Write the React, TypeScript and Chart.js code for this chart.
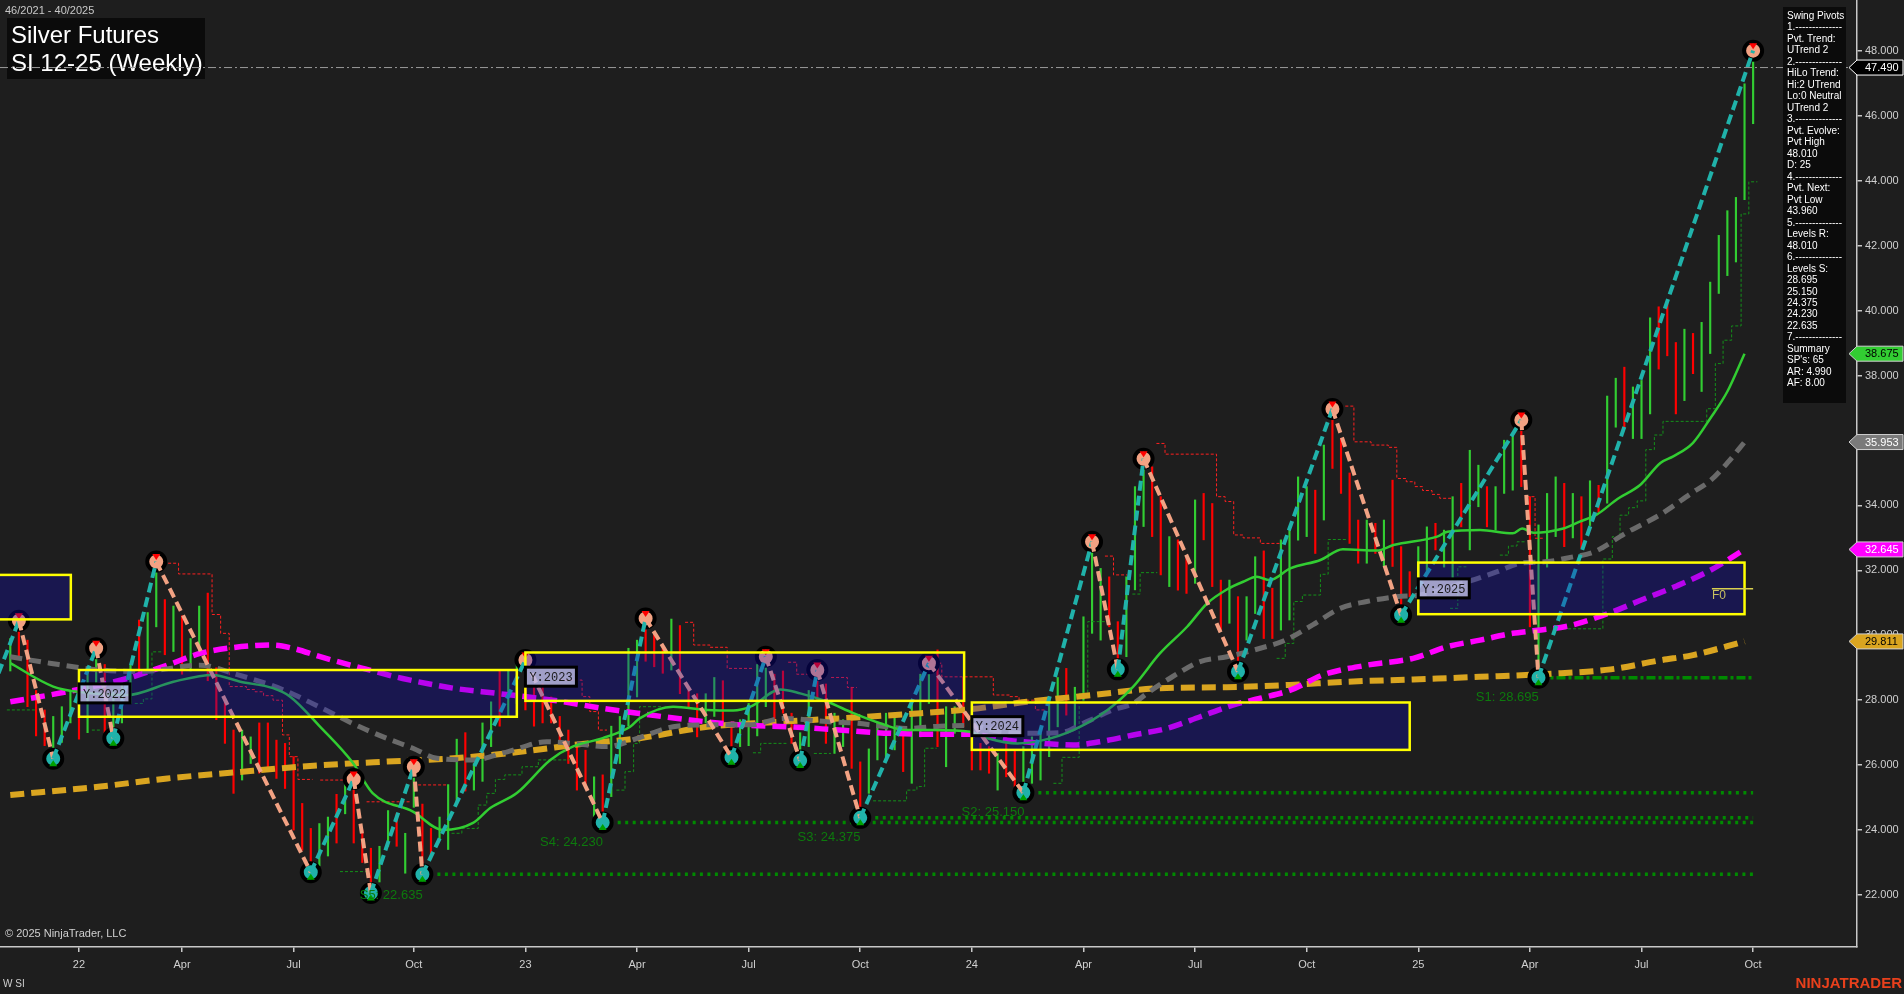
import React, { useEffect, useRef } from "react";
import { Chart, registerables } from "chart.js";
Chart.register(...registerables);

const FONT = '"Liberation Sans", Arial, sans-serif';
const MONO = '"Liberation Mono", "Courier New", monospace';
const BG = "#1e1e1e";
const AXIS = "#c8c8c8";

// ---------------- data ----------------
const highs = [
  29.9, 30.45, 29.85, 28.3, 27.7, 27.5, 27.8, 28.3, 28.4, 28.9,
  29.6, 29.1, 28.3, 28.6, 29.1, 30.47, 30.7, 32.27, 31.1, 30.9,
  30.6, 29.9, 30.9, 31.3, 29.0, 28.0, 27.08, 27.08, 26.87, 27.3,
  27.3, 26.77, 26.67, 26.26, 24.82, 24.05, 24.2, 24.4, 25.1, 25.6,
  25.57, 24.0, 23.44, 23.5, 24.6, 24.5, 23.9, 25.95, 24.8, 24.05,
  24.4, 25.4, 26.8, 27.0, 26.05, 27.3, 27.95, 28.9, 28.9, 29.1,
  29.24, 28.4, 28.5, 28.1, 27.5, 27.08, 26.67, 26.46, 25.64, 25.7,
  27.2, 27.5, 29.6, 29.85, 30.52, 30.1, 29.7, 30.5, 30.3, 28.3,
  28.2, 28.2, 28.7, 28.6, 27.2, 27.4, 27.9, 29.1, 29.34, 28.8,
  28.9, 27.6, 27.0, 28.3, 28.93, 28.5, 27.6, 27.4, 28.4, 26.1,
  26.5, 27.3, 27.6, 27.5, 27.18, 27.9, 28.8, 29.14, 29.55, 27.8,
  27.8, 28.7, 27.08, 26.67, 26.57, 26.36, 26.87, 26.47, 26.57, 26.87,
  26.98, 28.0, 28.7, 28.98, 28.4, 30.57, 32.88, 32.06, 31.8, 30.42,
  31.8, 34.58, 35.44, 35.19, 34.27, 33.04, 32.94, 32.42, 34.17, 34.37,
  34.06, 31.7, 31.7, 31.19, 31.19, 32.42, 32.6, 31.45, 32.94, 33.24,
  34.88, 34.58, 34.47, 35.86, 36.97, 36.07, 35.0, 33.55, 33.55, 33.45,
  33.55, 34.78, 32.73, 31.96, 32.73, 33.34, 33.45, 33.24, 34.27, 34.68,
  35.7, 35.24, 34.58, 34.58, 36.01, 36.22, 36.63, 34.27, 33.4, 34.37,
  34.88, 34.68, 34.37, 34.27, 34.76, 34.62, 37.37, 37.92, 38.26, 37.65,
  37.85, 39.78, 40.12, 40.33, 39.02, 39.43, 39.3, 39.64, 40.88, 42.32,
  43.08, 43.49, 46.99, 48.01,
];
const lows = [
  28.9, 29.3, 27.8, 26.9, 26.6, 26.2, 26.7, 27.3, 26.8, 27.0,
  28.4, 27.0, 26.83, 27.3, 27.9, 28.8, 28.9, 30.26, 29.4, 29.5,
  28.8, 28.9, 29.5, 28.6, 27.4, 26.67, 25.13, 25.54, 26.05, 25.75,
  25.95, 25.59, 25.28, 24.0, 23.38, 22.7, 22.9, 23.2, 23.6, 24.5,
  23.6, 23.0, 22.06, 22.4, 23.5, 23.5, 22.67, 24.7, 22.64, 23.23,
  23.7, 23.4, 24.8, 25.2, 25.23, 25.5, 26.57, 27.2, 27.5, 27.9,
  27.7, 27.2, 27.3, 27.3, 26.57, 26.05, 25.23, 25.4, 24.41, 24.23,
  25.03, 26.05, 27.2, 28.1, 29.2, 29.03, 28.83, 28.93, 28.2, 27.8,
  26.87, 27.3, 27.5, 27.3, 26.24, 26.57, 26.6, 26.9, 27.8, 27.4,
  27.6, 26.67, 26.14, 26.57, 28.0, 26.67, 26.36, 26.57, 25.9, 24.375,
  25.13, 26.16, 26.16, 26.47, 25.8, 25.44, 26.87, 27.9, 26.57, 25.95,
  26.98, 27.18, 25.85, 25.85, 25.75, 25.23, 25.64, 25.34, 25.15, 25.44,
  25.54, 26.26, 27.18, 27.54, 27.1, 28.0, 30.06, 29.85, 30.26, 28.95,
  29.34, 31.4, 33.35, 33.04, 31.86, 31.5, 31.39, 31.29, 31.6, 32.94,
  31.5, 30.17, 30.37, 28.88, 29.85, 30.67, 29.9, 29.9, 30.16, 30.47,
  32.93, 33.04, 32.52, 33.55, 35.14, 34.37, 32.83, 32.22, 32.22, 32.52,
  32.12, 32.12, 30.62, 31.19, 31.5, 32.0, 32.63, 32.1, 31.7, 33.34,
  32.63, 33.96, 33.34, 33.24, 34.37, 34.47, 34.58, 30.26, 28.695, 32.1,
  33.04, 32.73, 33.0, 32.69, 33.38, 33.79, 34.07, 36.41, 36.41, 36.06,
  36.06, 36.82, 38.2, 38.61, 36.82, 37.23, 38.06, 37.51, 38.68, 40.53,
  41.08, 41.5, 43.42, 45.76,
];
// u = up bar (green), d = down bar (red)
const barDirections =
  "udddduuudu" + "uduuuduudu" + "duudddduud" + "dddddduudu" + "ddduuduudd" +
  "uuuduuuduu" + "ddddddddud" + "uuuudddudd" + "duudduuuud" + "dduudduudd" +
  "uuuuduuudu" + "uddddudduu" + "uuuduuuudd" + "uuudduddud" + "dduduudduu" +
  "uududdddud" + "uddduuduud" + "uuduuudduu" + "udududuudu" + "uuddduduuu" + "uuuu";

const xTickIndex = [8, 20, 33, 47, 60, 73, 86, 99, 112, 125, 138, 151, 164, 177, 190, 203];
const xTickLabels = ["22", "Apr", "Jul", "Oct", "23", "Apr", "Jul", "Oct", "24", "Apr", "Jul", "Oct", "25", "Apr", "Jul", "Oct"];
const yTickValues = [22, 24, 26, 28, 30, 32, 34, 36, 38, 40, 42, 44, 46, 48];

const pivotIndex = [1, 5, 10, 12, 17, 35, 40, 42, 47, 48, 60, 69, 74, 84, 88, 92, 94, 99, 107, 118, 126, 129, 132, 143, 154, 162, 176, 178, 203];
const pivotValue = [30.45, 26.2, 29.6, 26.83, 32.27, 22.7, 25.57, 22.06, 25.95, 22.635, 29.24, 24.23, 30.52, 26.24, 29.34, 26.14, 28.93, 24.375, 29.14, 25.15, 32.88, 28.95, 35.44, 28.88, 36.97, 30.62, 36.63, 28.695, 48.01];
const pivotKind = "HLHLHLHLHLHLHLHLHLHLHLHLHLHLH";
const zigzagLead = [-2, 28.4];

// moving averages: [bar index, price]
const maFast = [[0,29.14],[5,28.42],[8.1,28.25],[13.6,28.16],[19,28.57],[23.6,28.78],[26.8,28.57],[30.6,28.37],[32.6,28.11],[36.1,27.18],[39.9,26.07],[42.2,25.14],[46.9,24.57],[50.4,24.0],[53.9,24.22],[55.9,24.68],[59,25.14],[62.9,26.16],[65.5,26.57],[69,26.83],[72.2,27.18],[73.3,27.44],[77.2,27.8],[81.2,27.7],[84.2,27.68],[86.2,27.8],[89.7,28.33],[92,28.21],[95.1,27.96],[98.2,27.6],[101.3,27.29],[104.4,27.08],[107.5,27.08],[111.8,27.03],[113.8,26.83],[117.3,26.67],[120.3,26.77],[123.8,27.08],[127.8,27.7],[130.8,28.42],[133.9,29.44],[137.1,30.27],[139.4,30.98],[141.7,31.41],[143.6,31.65],[145.2,31.8],[146.7,31.7],[149.1,32.06],[152.6,32.32],[155.2,32.65],[159.2,32.61],[161.1,32.78],[166.2,33.04],[167.4,33.19],[171.2,33.24],[175,33.14],[176.1,33.29],[177.4,33.16],[180.9,33.29],[182.8,33.5],[184.8,33.72],[187.2,34.2],[189.8,34.62],[192.2,35.31],[193.7,35.51],[196,35.93],[198,36.68],[200,37.51],[202,38.675]];
const maMid = [[0,29.34],[4.6,29.14],[10.5,28.93],[15.1,28.88],[22.1,29.08],[25.9,28.83],[31.8,28.32],[36.1,27.78],[40.7,27.18],[43.9,26.82],[46.9,26.52],[49.7,26.21],[53.9,26.16],[57.9,26.41],[62.5,26.72],[65.5,26.67],[69.5,26.57],[73.3,26.85],[77.2,27.18],[81.2,27.24],[86.2,27.24],[90,27.44],[95.1,27.34],[98.6,27.29],[102.1,27.18],[104.4,27.13],[108.3,27.2],[111.8,27.22],[115.3,27.03],[118.4,26.98],[122.3,27.0],[125.4,27.34],[128.4,27.7],[130.8,27.9],[132.4,28.21],[135.4,28.73],[138.6,29.19],[141.7,29.34],[145.6,29.6],[148.5,29.85],[151.7,30.32],[154.9,30.83],[158,31.04],[161.5,31.19],[164.2,31.24],[169.7,31.65],[173.2,31.96],[175.9,32.22],[179,32.27],[181.7,32.4],[184.4,32.56],[188.3,33.17],[192.2,33.72],[196,34.41],[198,34.76],[200,35.31],[202,35.953]];
const maSlow = [[0,27.95],[6.6,28.26],[13.6,28.67],[18.3,29.08],[22.1,29.44],[25.9,29.62],[30.6,29.7],[32.9,29.6],[36.1,29.34],[41.1,28.98],[45.7,28.67],[51.6,28.37],[56.7,28.21],[63.2,28.0],[69,27.75],[73.3,27.59],[79.2,27.39],[85,27.24],[90.8,27.18],[96.6,27.08],[102.5,26.98],[108.3,26.95],[111.8,26.95],[116.1,26.77],[120.3,26.67],[123.8,26.62],[126.9,26.72],[130.8,26.93],[134.7,27.13],[138.6,27.49],[142.4,27.85],[145.6,28.06],[149.1,28.31],[152.9,28.78],[158,29.08],[163.4,29.29],[167.4,29.65],[171.2,29.85],[175,30.06],[177.4,30.14],[181.7,30.3],[186.4,30.7],[190.2,31.11],[194.1,31.52],[198,32.0],[202,32.645]];
const maLong = [[0,25.08],[10.5,25.34],[18.3,25.59],[25.9,25.77],[33.7,25.95],[43.9,26.11],[51.6,26.21],[59.4,26.41],[67.2,26.67],[73.3,26.83],[81.2,27.18],[88.8,27.32],[96.6,27.44],[104.4,27.57],[111.8,27.72],[118.4,27.95],[126.1,28.16],[133.9,28.37],[141.7,28.4],[149,28.47],[155.7,28.57],[163.4,28.64],[171.2,28.72],[179,28.81],[186.4,28.95],[192.2,29.23],[196,29.39],[202,29.811]];

// swing trailing steps: segments of [bar index, level]
const redTrail = [
  [[17.8,32.22],[19.6,31.89],[23.5,30.64],[24.5,30.06],[25.5,28.42],[27.5,28.33],[28.5,28.26],[29.5,28.14],[30.6,28.0],[31.7,26.93],[32.5,26.26],[33.5,25.56],[35.2,25.56]],
  [[36.1,25.54],[38.8,25.54]],
  [[41.5,24.87],[46.6,24.87]],
  [[47.5,25.39],[50.8,25.39]],
  [[64,28.62],[66.6,28.11],[67.5,27.65],[68.5,27.08],[69.5,27.08]],
  [[78.6,30.4],[79.6,29.7],[81.5,29.63],[83.5,28.98],[86.5,28.98]],
  [[90.6,29.17],[91.6,28.8],[93.5,28.8]],
  [[95.6,28.7],[97.5,28.39],[98.6,28.39]],
  [[107.5,29.14],[108.5,28.72],[114.5,28.16],[116.4,28.11],[117.5,28.0],[119.4,27.7],[120.6,27.7]],
  [[127.5,32.44],[128.5,31.86],[130.1,31.86]],
  [[133.5,35.91],[134.5,35.58],[140.5,34.27],[141.5,34.12],[142.5,33.09],[143.6,33.0],[145.6,32.83],[147.9,32.83]],
  [[155.5,37.06],[156.5,35.96],[158.5,35.86],[160.5,35.79],[161.5,34.83],[162.6,34.73],[163.6,34.58],[164.5,34.46],[165.6,34.34],[166.5,34.22],[168,34.22]],
  [[176.6,34.27],[177.6,32.99],[178.5,32.99]],
];
const greenTrail = [
  [[-0.4,27.7],[2.9,27.7]],
  [[9.5,27.08],[10.5,27.08]],
  [[14.5,27.9],[15.5,28.04],[16.5,29.49],[17.8,29.49]],
  [[38.4,22.72],[41.5,22.72]],
  [[51.4,23.9],[52.6,24.05],[54.5,24.77],[55.5,25.13],[56.5,25.56],[57.6,25.7],[59.6,25.95],[61.5,26.16],[65.2,26.16]],
  [[70.6,25.23],[71.6,25.8],[72.6,26.67],[73.3,27.8],[76,27.8]],
  [[86.5,26.38],[87.4,26.67],[90.4,26.67]],
  [[93.6,26.36],[95.6,26.36]],
  [[100.5,24.9],[104.4,25.23],[105.6,25.34],[106.5,26.52],[107.9,26.52]],
  [[121.5,25.44],[122.5,26.24],[124.5,28.21],[125.5,30.42],[127.5,30.42]],
  [[130.7,31.27],[131.6,31.93],[133.6,31.93]],
  [[147.5,29.29],[148.5,29.75],[149.5,31.04],[150.5,31.24],[152.6,31.88],[153.5,32.95],[155.7,32.95]],
  [[167.7,30.83],[168.6,32.11],[169.6,32.11]],
  [[173.5,32.47],[174.5,32.75],[175.5,32.88],[176.5,32.88]],
  [[179.7,30.2],[185.5,32.35],[186.6,33.04],[187.5,33.7],[188.5,33.93],[189.5,34.14],[190.5,35.72],[191.5,36.17],[192.5,36.59],[197.6,36.98],[198.6,38.37],[199.5,39.09],[200.5,39.53],[201.6,42.98],[202.5,43.97],[203.5,43.97]],
];

const supportName = ["S5", "S4", "S3", "S2", "S1"];
const supportLevel = [22.635, 24.23, 24.375, 25.15, 28.695];
const supportStart = [48, 69, 99, 118, 178];
const supportEnd = 203;

const yearBoxLabel = ["Y:2021", "Y:2022", "Y:2023", "Y:2024", "Y:2025"];
const yearBoxStart = [-6, 8, 60, 112, 164];
const yearBoxEnd = [7.05, 59, 111.1, 163, 202];
const yearBoxLow = [30.49, 27.49, 27.98, 26.47, 30.65];
const yearBoxHigh = [31.86, 28.93, 29.47, 27.93, 32.24];
const fibLevel = 31.43;

const lastPrice = 47.49;
const tagValues = [47.49, 38.675, 35.953, 32.645, 29.811];

const infoLines = ["Swing Pivots", "1.--------------", "Pvt. Trend:", "UTrend 2", "2.--------------", "HiLo Trend:", "Hi:2 UTrend", "Lo:0 Neutral", "UTrend 2", "3.--------------", "Pvt. Evolve:", "Pvt High", "48.010", "D: 25", "4.--------------", "Pvt. Next:", "Pvt Low", "43.960", "5.--------------", "Levels R:", "48.010", "6.--------------", "Levels S:", "28.695", "25.150", "24.375", "24.230", "22.635", "7.--------------", "Summary", "SP's: 65", "AR: 4.990", "AF: 8.00"];

// ---------------- layout / style (not data) ----------------
const X_MIN = -1.2, X_MAX = 215.1, Y_MIN = 20.397, Y_MAX = 49.571;
const supportLabelPos = [[40.7, 22.0], [61.7, 23.62], [91.7, 23.78], [110.8, 24.55], [170.7, 28.09]];
const tagStyle = [
  { fill: "#000000", text: "#ffffff", stroke: "#ffffff" },
  { fill: "#32cd32", text: "#000000", stroke: null },
  { fill: "#7a7a7a", text: "#ffffff", stroke: null },
  { fill: "#ff00ff", text: "#ffffff", stroke: null },
  { fill: "#daa520", text: "#000000", stroke: null },
];
const TEAL = "#20b2aa";
const SALMON = "#f2a283";

const pts = (arr: number[][]) => arr.map(([x, y]) => ({ x, y }));
const segs = (list: number[][][]) => {
  const out: any[] = [];
  list.forEach((s, k) => {
    if (k > 0) out.push({ x: s[0][0] - 0.01, y: null });
    s.forEach(([x, y]) => out.push({ x, y }));
  });
  return out;
};

const overlay = {
  id: "overlay",
  beforeDraw(chart: any) {
    const { ctx, width, height } = chart;
    ctx.save();
    ctx.fillStyle = BG;
    ctx.fillRect(0, 0, width, height);
    ctx.restore();
  },
  afterDatasetsDraw(chart: any) {
    const { ctx, chartArea: a } = chart;
    const x = chart.scales.x, y = chart.scales.y;
    ctx.save();
    ctx.beginPath();
    ctx.rect(a.left, a.top, a.right - a.left, a.bottom - a.top);
    ctx.clip();
    // pivot markers' arrows
    pivotIndex.forEach((pi, k) => {
      const px = x.getPixelForValue(pi), py = y.getPixelForValue(pivotValue[k]);
      ctx.beginPath();
      if (pivotKind[k] === "H") {
        ctx.moveTo(px - 4, py - 7.5); ctx.lineTo(px + 4, py - 7.5); ctx.lineTo(px, py - 1.5);
        ctx.fillStyle = "#ff0000";
      } else {
        ctx.moveTo(px - 4, py + 7.5); ctx.lineTo(px + 4, py + 7.5); ctx.lineTo(px, py + 1.5);
        ctx.fillStyle = "#00a000";
      }
      ctx.closePath();
      ctx.fill();
    });
    // yearly boxes
    yearBoxStart.forEach((s, k) => {
      const x0 = x.getPixelForValue(s), x1 = x.getPixelForValue(yearBoxEnd[k]);
      const y0 = y.getPixelForValue(yearBoxHigh[k]), y1 = y.getPixelForValue(yearBoxLow[k]);
      ctx.fillStyle = "rgba(16,10,196,0.3)";
      ctx.fillRect(x0, y0, x1 - x0, y1 - y0);
      ctx.strokeStyle = "#ffff00";
      ctx.lineWidth = 2.5;
      ctx.strokeRect(x0, y0, x1 - x0, y1 - y0);
    });
    // F0 level
    {
      const fy = y.getPixelForValue(fibLevel);
      const fx0 = x.getPixelForValue(198.2), fx1 = x.getPixelForValue(203);
      ctx.strokeStyle = "#d8d050";
      ctx.lineWidth = 1.5;
      ctx.beginPath(); ctx.moveTo(fx0, fy); ctx.lineTo(fx1, fy); ctx.stroke();
      ctx.fillStyle = "#c8c060";
      ctx.font = `12px ${FONT}`;
      ctx.textAlign = "left"; ctx.textBaseline = "top";
      ctx.fillText("F0", fx0, fy + 1);
    }
    // yearly box labels
    yearBoxStart.forEach((s, k) => {
      if (s < X_MIN) return;
      const x0 = x.getPixelForValue(s);
      const ym = (y.getPixelForValue(yearBoxHigh[k]) + y.getPixelForValue(yearBoxLow[k])) / 2;
      ctx.fillStyle = "rgba(205,205,240,0.75)";
      ctx.fillRect(x0, ym - 9.5, 51, 19);
      ctx.strokeStyle = "#000000";
      ctx.lineWidth = 3;
      ctx.strokeRect(x0, ym - 9.5, 51, 19);
      ctx.fillStyle = "#1a1a1a";
      ctx.font = `12px ${MONO}`;
      ctx.textAlign = "left"; ctx.textBaseline = "middle";
      ctx.fillText(yearBoxLabel[k], x0 + 4, ym + 1);
    });
    // support labels
    supportName.forEach((n, k) => {
      const [li, lv] = supportLabelPos[k];
      ctx.fillStyle = "#0d7a0d";
      ctx.font = `13px ${FONT}`;
      ctx.textAlign = "left"; ctx.textBaseline = "middle";
      ctx.fillText(`${n}: ${supportLevel[k].toFixed(3)}`, x.getPixelForValue(li), y.getPixelForValue(lv));
    });
    ctx.restore();
  },
  afterDraw(chart: any) {
    const { ctx, chartArea: a } = chart;
    const y = chart.scales.y;
    ctx.save();
    // title
    ctx.fillStyle = "#0b0b0b";
    ctx.fillRect(7, 18, 198, 61);
    ctx.fillStyle = "#ffffff";
    ctx.font = `24px ${FONT}`;
    ctx.textAlign = "left"; ctx.textBaseline = "middle";
    ctx.fillText("Silver Futures", 11, 36);
    ctx.fillText("SI 12-25 (Weekly)", 11, 64);
    ctx.fillStyle = "#c8c8c8";
    ctx.font = `11px ${FONT}`;
    ctx.fillText("46/2021 - 40/2025", 5, 11);
    // last price dash-dot line
    const ly = y.getPixelForValue(lastPrice);
    ctx.strokeStyle = "#9a9a9a";
    ctx.lineWidth = 1;
    ctx.setLineDash([8, 3, 2, 3]);
    ctx.beginPath(); ctx.moveTo(a.left, ly); ctx.lineTo(a.right, ly); ctx.stroke();
    ctx.setLineDash([]);
    // info panel
    ctx.fillStyle = "#0b0b0b";
    ctx.fillRect(1783, 7, 63, 396);
    ctx.fillStyle = "#ffffff";
    ctx.font = `10px ${FONT}`;
    infoLines.forEach((t, k) => ctx.fillText(t, 1787, 16 + k * 11.49));
    // price tags
    tagValues.forEach((v, k) => {
      const ty = y.getPixelForValue(v);
      const st = tagStyle[k];
      const h = 15;
      ctx.beginPath();
      ctx.moveTo(1849, ty);
      ctx.lineTo(1857, ty - h / 2);
      ctx.lineTo(1903, ty - h / 2);
      ctx.lineTo(1903, ty + h / 2);
      ctx.lineTo(1857, ty + h / 2);
      ctx.closePath();
      ctx.fillStyle = st.fill;
      ctx.fill();
      ctx.lineWidth = 1;
      ctx.strokeStyle = st.stroke || "#d0d0d0";
      ctx.stroke();
      ctx.fillStyle = st.text;
      ctx.font = `11px ${FONT}`;
      ctx.textAlign = "left"; ctx.textBaseline = "middle";
      ctx.fillText(v.toFixed(3), 1865, ty + 0.5);
    });
    // footer texts
    ctx.fillStyle = "#d0d0d0";
    ctx.font = `11px ${FONT}`;
    ctx.textAlign = "left"; ctx.textBaseline = "middle";
    ctx.fillText("\u00a9 2025 NinjaTrader, LLC", 5, 934);
    ctx.font = `10px ${FONT}`;
    ctx.fillText("W SI", 3, 984);
    ctx.fillStyle = "#e8401c";
    ctx.font = `bold 15px ${FONT}`;
    ctx.textAlign = "right";
    ctx.fillText("NINJATRADER", 1902, 984);
    ctx.restore();
  },
};

export default function App() {
  const ref = useRef<HTMLCanvasElement>(null);
  useEffect(() => {
    document.body.style.margin = "0";
    document.body.style.background = BG;
    document.body.style.overflow = "hidden";
    const bars = highs.map((h, i) => ({ x: i, y: [lows[i], h] }));
    const barColors = highs.map((_, i) => (barDirections[i] === "u" ? "#32cd32" : "#ff0000"));
    const zigzag = [{ x: zigzagLead[0], y: zigzagLead[1] }, ...pivotIndex.map((p, k) => ({ x: p, y: pivotValue[k] }))];
    const pivotPts = pivotIndex.map((p, k) => ({ x: p, y: pivotValue[k] }));
    const pivotFill = pivotKind.split("").map((c) => (c === "H" ? SALMON : TEAL));
    const line = (data: any[], color: string, width: number, dash: number[], order: number, extra: any = {}) => ({
      type: "line", data, borderColor: color, borderWidth: width, borderDash: dash, pointRadius: 0,
      fill: false, order, ...extra,
    });
    const supports = supportLevel.map((lv, k) =>
      line([{ x: supportStart[k], y: lv }, { x: supportEnd, y: lv }], "#008a00", 3.5,
        k === 4 ? [9, 3, 3, 3] : [3, 4.5], 12)
    );
    const config: any = {
      type: "bar",
      data: {
        datasets: [
          { type: "bar", data: bars, backgroundColor: barColors, barThickness: 1.5, grouped: false, borderWidth: 0, order: 20 },
          line(segs(redTrail), "#ff2020", 1, [3, 2], 15, { stepped: "before" }),
          line(segs(greenTrail), "#14901a", 1, [3, 2], 15, { stepped: "before" }),
          ...supports,
          line(pts(maLong), "#daa520", 6, [14, 7], 9, { cubicInterpolationMode: "monotone" }),
          line(pts(maSlow), "#ff00ff", 5.5, [14, 7], 8, { cubicInterpolationMode: "monotone" }),
          line(pts(maMid), "#6a6a6a", 5, [12, 7], 7, { cubicInterpolationMode: "monotone" }),
          line(pts(maFast), "#32cd32", 2.5, [], 6, { cubicInterpolationMode: "monotone" }),
          {
            type: "line", data: pivotPts, showLine: false, pointRadius: 9, pointBorderWidth: 4,
            pointBorderColor: "#000000", pointBackgroundColor: pivotFill, order: 4,
          },
          line(zigzag, TEAL, 4, [10, 5], 3, {
            segment: { borderColor: (c: any) => (c.p1.parsed.y > c.p0.parsed.y ? TEAL : SALMON) },
          }),
        ],
      },
      options: {
        animation: false,
        responsive: false,
        maintainAspectRatio: false,
        events: [],
        layout: { padding: 0, autoPadding: false },
        plugins: { legend: { display: false }, tooltip: { enabled: false } },
        scales: {
          x: {
            type: "linear", min: X_MIN, max: X_MAX, offset: false,
            grid: { display: true, drawOnChartArea: false, drawTicks: true, tickLength: 5, color: AXIS, lineWidth: 1.5, offset: false },
            border: { display: true, color: AXIS, width: 1.5 },
            afterBuildTicks: (s: any) => { s.ticks = xTickIndex.map((v) => ({ value: v })); },
            afterFit: (s: any) => { s.height = 47; s.paddingLeft = 0; s.paddingRight = 0; },
            ticks: {
              autoSkip: false, maxRotation: 0, padding: 6, color: "#d0d0d0",
              font: { family: FONT, size: 11 },
              callback: (_v: any, i: number) => xTickLabels[i],
            },
          },
          y: {
            type: "linear", position: "right", min: Y_MIN, max: Y_MAX,
            grid: { display: true, drawOnChartArea: false, drawTicks: true, tickLength: 5, color: AXIS, lineWidth: 1.5 },
            border: { display: true, color: AXIS, width: 1.5 },
            afterBuildTicks: (s: any) => { s.ticks = yTickValues.map((v) => ({ value: v })); },
            afterFit: (s: any) => { s.width = 47; s.paddingTop = 0; s.paddingBottom = 0; },
            ticks: {
              padding: 3, color: "#d0d0d0", font: { family: FONT, size: 11 },
              callback: (v: any) => Number(v).toFixed(3),
            },
          },
        },
      },
      plugins: [overlay],
    };
    const chart = new Chart(ref.current as HTMLCanvasElement, config);
    return () => chart.destroy();
  }, []);
  return (
    <div style={{ width: 1904, height: 994 }}>
      <canvas ref={ref} width={1904} height={994} style={{ display: "block", width: 1904, height: 994 }} />
    </div>
  );
}
